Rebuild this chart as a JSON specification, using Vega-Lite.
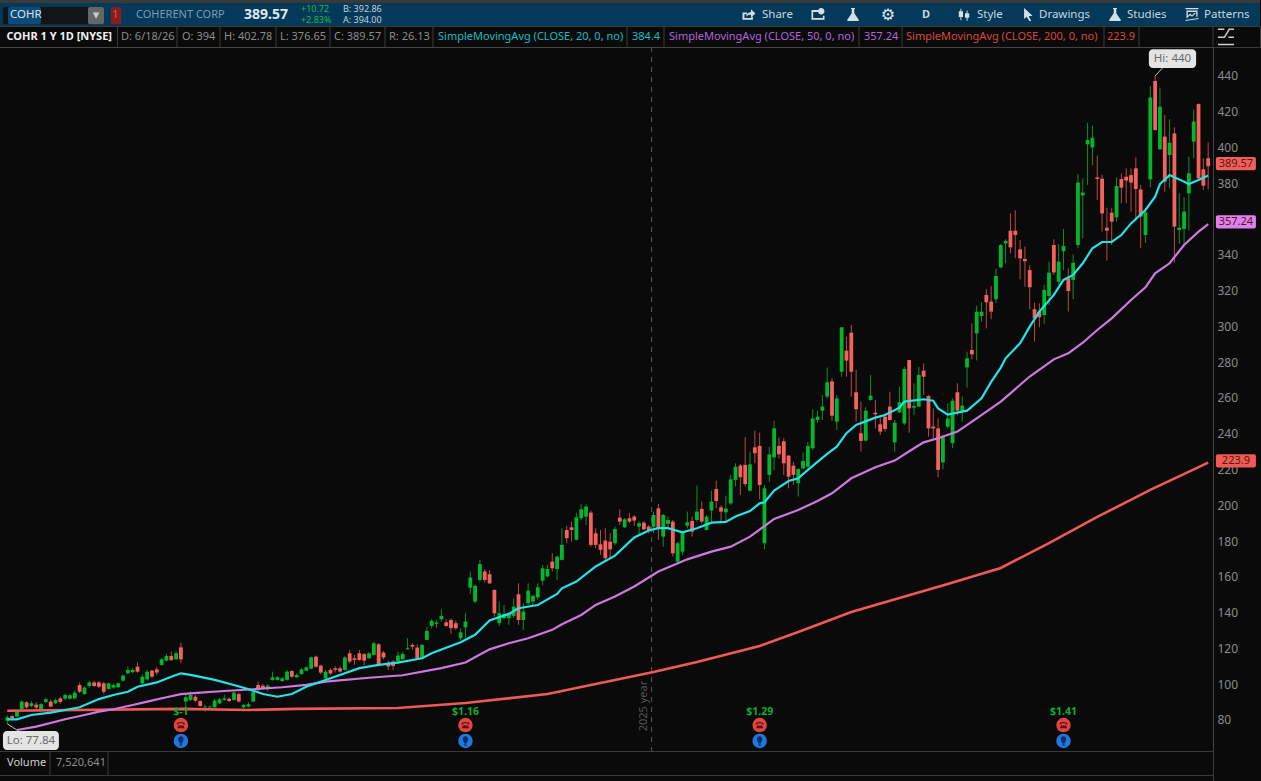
{"$schema":"https://vega.github.io/schema/vega-lite/v6.json","background":"#0a0a0a","padding":{"left":-2,"top":0,"right":0,"bottom":0},"spacing":0,"bounds":"flush","config":{"font":"Noto Sans","concat":{"spacing":0},"view":{"stroke":null},"scale":{"continuousPadding":0},"axis":{"labelOverlap":false}},
"datasets":{
"bars":[
{"i":0,"o":79.6,"h":82.5,"l":77.84,"c":81.5},{"i":1,"o":82.2,"h":83,"l":80.5,"c":81},{"i":2,"o":82,"h":85.5,"l":81.5,"c":84.5},{"i":3,"o":86,"h":91,"l":85.5,"c":90.3},{"i":4,"o":89.9,"h":90.5,"l":86.5,"c":87.1},{"i":5,"o":87.8,"h":90.5,"l":87,"c":89.3},{"i":6,"o":88.6,"h":90,"l":85.5,"c":87},{"i":7,"o":85.6,"h":89.5,"l":85.2,"c":88.9},{"i":8,"o":90.1,"h":92.5,"l":89.5,"c":91.6},{"i":9,"o":90.3,"h":91.5,"l":87,"c":87.5},
{"i":10,"o":89.3,"h":92,"l":88.8,"c":91.2},{"i":11,"o":92.1,"h":93,"l":89,"c":90.1},{"i":12,"o":91.9,"h":94.8,"l":91,"c":94},{"i":13,"o":91.9,"h":94.5,"l":91.4,"c":93.8},{"i":14,"o":92.1,"h":96.5,"l":91.5,"c":95.3},{"i":15,"o":99.6,"h":101,"l":95,"c":95.8},{"i":16,"o":94.5,"h":99,"l":94,"c":98.1},{"i":17,"o":99,"h":102,"l":98,"c":101},{"i":18,"o":101,"h":102,"l":98.5,"c":99},{"i":19,"o":101,"h":101.8,"l":98,"c":98.6},
{"i":20,"o":100.5,"h":101.2,"l":94.5,"c":95.8},{"i":21,"o":97.3,"h":101,"l":97,"c":100.5},{"i":22,"o":98.1,"h":100.5,"l":97.5,"c":99.6},{"i":23,"o":98.3,"h":101,"l":98,"c":100.5},{"i":24,"o":102,"h":105.5,"l":101.5,"c":104.8},{"i":25,"o":106.1,"h":110,"l":105.5,"c":108},{"i":26,"o":106.8,"h":109,"l":106,"c":108},{"i":27,"o":109.8,"h":112.2,"l":106.5,"c":107},{"i":28,"o":100.5,"h":105.5,"l":99.5,"c":104.2},{"i":29,"o":102.7,"h":108,"l":102,"c":107},
{"i":30,"o":107.6,"h":108,"l":103.5,"c":104.2},{"i":31,"o":108.3,"h":109.5,"l":105,"c":106.5},{"i":32,"o":110.8,"h":114.8,"l":110.3,"c":113.9},{"i":33,"o":113.2,"h":117,"l":112.8,"c":115.8},{"i":34,"o":115.8,"h":118.2,"l":113,"c":113.5},{"i":35,"o":113.9,"h":118.5,"l":113.5,"c":117.3},{"i":36,"o":120.6,"h":123.2,"l":111.7,"c":113.9},{"i":37,"o":90.3,"h":94,"l":86.5,"c":92.7},{"i":38,"o":91.2,"h":96,"l":90.5,"c":94},{"i":39,"o":93,"h":94,"l":90,"c":90.8},
{"i":40,"o":90.6,"h":91,"l":87.5,"c":87.8},{"i":41,"o":87.1,"h":88.5,"l":84.7,"c":87.5},{"i":42,"o":87.1,"h":88,"l":86.5,"c":87.5},{"i":43,"o":87.1,"h":91.8,"l":86.8,"c":90.8},{"i":44,"o":89.3,"h":92.2,"l":89,"c":91.6},{"i":45,"o":91.2,"h":94,"l":90.8,"c":92.1},{"i":46,"o":91.9,"h":92.7,"l":90,"c":90.6},{"i":47,"o":91.2,"h":96,"l":90.8,"c":95.3},{"i":48,"o":94.5,"h":95.3,"l":89.8,"c":90.3},{"i":49,"o":87.1,"h":89,"l":86.5,"c":88.4},
{"i":50,"o":87.5,"h":90,"l":87,"c":88.8},{"i":51,"o":90.3,"h":97.5,"l":90,"c":95.8},{"i":52,"o":99.6,"h":101.5,"l":95.8,"c":97.7},{"i":53,"o":99.2,"h":100,"l":97,"c":97.5},{"i":54,"o":97.7,"h":100,"l":95.8,"c":99.2},{"i":55,"o":102.4,"h":107,"l":102,"c":103.9},{"i":56,"o":102.4,"h":104.5,"l":102,"c":103.9},{"i":57,"o":101.8,"h":104,"l":101.3,"c":103.3},{"i":58,"o":102.4,"h":108,"l":102,"c":107},{"i":59,"o":107.4,"h":108,"l":103.5,"c":104.2},
{"i":60,"o":103.9,"h":106,"l":103.5,"c":105.2},{"i":61,"o":105.7,"h":109,"l":105.3,"c":108.3},{"i":62,"o":107.6,"h":110,"l":107.2,"c":109.4},{"i":63,"o":108.7,"h":115.5,"l":108.3,"c":115},{"i":64,"o":115.4,"h":116,"l":109.3,"c":109.8},{"i":65,"o":110.4,"h":111,"l":105.5,"c":106.5},{"i":66,"o":103.3,"h":108,"l":102,"c":107},{"i":67,"o":108,"h":109,"l":105,"c":106},{"i":68,"o":108.9,"h":110,"l":106.5,"c":108},{"i":69,"o":108.9,"h":110,"l":106.5,"c":107.1},
{"i":70,"o":108,"h":115.8,"l":107.5,"c":114.9},{"i":71,"o":117.3,"h":119.2,"l":111.7,"c":112.7},{"i":72,"o":114.5,"h":116.4,"l":110.8,"c":113.6},{"i":73,"o":117.3,"h":119.2,"l":113,"c":113.6},{"i":74,"o":116.8,"h":117.5,"l":110.8,"c":113.2},{"i":75,"o":114.5,"h":118,"l":114,"c":117.3},{"i":76,"o":116.4,"h":123.8,"l":116,"c":122.9},{"i":77,"o":122.3,"h":123,"l":110.3,"c":110.8},{"i":78,"o":117.7,"h":118.5,"l":114,"c":114.9},{"i":79,"o":112.1,"h":113.2,"l":107.9,"c":109.9},
{"i":80,"o":112.7,"h":113.5,"l":108,"c":110.2},{"i":81,"o":112.7,"h":118.2,"l":112.2,"c":116},{"i":82,"o":114,"h":118,"l":113.5,"c":116.9},{"i":83,"o":119.5,"h":125.7,"l":119.3,"c":120.1},{"i":84,"o":122,"h":122.9,"l":119.2,"c":121},{"i":85,"o":120.5,"h":122.3,"l":114,"c":114.5},{"i":86,"o":114.9,"h":122.5,"l":114.5,"c":122},{"i":87,"o":124.8,"h":132.2,"l":124.5,"c":129.8},{"i":88,"o":132.6,"h":136.3,"l":131.3,"c":135.4},{"i":89,"o":133.7,"h":136,"l":131.3,"c":134.5},
{"i":90,"o":136.3,"h":141.9,"l":135,"c":138.2},{"i":91,"o":134.6,"h":136.3,"l":132,"c":132.6},{"i":92,"o":135.9,"h":136.9,"l":128.1,"c":131.3},{"i":93,"o":134.1,"h":135.6,"l":130.4,"c":131.3},{"i":94,"o":125.7,"h":131.3,"l":124.8,"c":129},{"i":95,"o":131.8,"h":139.7,"l":125.7,"c":135},{"i":96,"o":154,"h":163,"l":150.5,"c":159.6},{"i":97,"o":146.2,"h":155.8,"l":145.3,"c":155},{"i":98,"o":158.3,"h":169.5,"l":157.4,"c":167.2},{"i":99,"o":163,"h":164.3,"l":156.8,"c":158.3},
{"i":100,"o":161.5,"h":163.9,"l":156,"c":156.4},{"i":101,"o":152.7,"h":153,"l":137.8,"c":139.7},{"i":102,"o":134.1,"h":146.2,"l":132.6,"c":139.7},{"i":103,"o":136.9,"h":144.3,"l":136.3,"c":139.3},{"i":104,"o":136.9,"h":140,"l":133.2,"c":139.3},{"i":105,"o":138.2,"h":148,"l":136.9,"c":143.4},{"i":106,"o":150.3,"h":156.4,"l":133.2,"c":135.9},{"i":107,"o":135.9,"h":145.3,"l":130.4,"c":140.6},{"i":108,"o":145.3,"h":156.4,"l":144.3,"c":152.3},{"i":109,"o":146.2,"h":150,"l":144.3,"c":149.4},
{"i":110,"o":148.6,"h":156.4,"l":147.1,"c":154.2},{"i":111,"o":157.9,"h":166.7,"l":155.5,"c":164.8},{"i":112,"o":160.2,"h":166.7,"l":159.8,"c":164.4},{"i":113,"o":168.5,"h":173.2,"l":163,"c":164.8},{"i":114,"o":164.3,"h":171.8,"l":158.3,"c":171.3},{"i":115,"o":169.5,"h":187.2,"l":169.1,"c":177.9},{"i":116,"o":186.2,"h":188.5,"l":178.8,"c":181.6},{"i":117,"o":187.7,"h":190.9,"l":179.7,"c":186.2},{"i":118,"o":180.7,"h":195.6,"l":180.3,"c":193.3},{"i":119,"o":192.8,"h":200.6,"l":191.8,"c":197.8},
{"i":120,"o":193.7,"h":200.6,"l":189,"c":199.3},{"i":121,"o":195.9,"h":197.1,"l":176.9,"c":177.9},{"i":122,"o":184.4,"h":187.2,"l":176,"c":177.9},{"i":123,"o":178.2,"h":186.2,"l":172.3,"c":175.1},{"i":124,"o":180.3,"h":187.2,"l":169.5,"c":170.4},{"i":125,"o":179.7,"h":184.4,"l":170.4,"c":175.4},{"i":126,"o":178.8,"h":188.1,"l":177.9,"c":186.8},{"i":127,"o":193.1,"h":197.8,"l":189,"c":190.9},{"i":128,"o":187.7,"h":193,"l":187.2,"c":192.2},{"i":129,"o":192.8,"h":195.6,"l":190,"c":190.9},
{"i":130,"o":193.7,"h":194.6,"l":188.5,"c":191.5},{"i":131,"o":188.1,"h":191,"l":183.4,"c":190},{"i":132,"o":190.3,"h":191.2,"l":186,"c":186.6},{"i":133,"o":188.1,"h":189,"l":184.4,"c":185.9},{"i":134,"o":188,"h":196.5,"l":184.4,"c":194.6},{"i":135,"o":198.3,"h":200.8,"l":180.6,"c":187.2},{"i":136,"o":182.5,"h":195.2,"l":176.9,"c":194.6},{"i":137,"o":189.6,"h":193.7,"l":187.2,"c":191.8},{"i":138,"o":190.9,"h":191.8,"l":171.3,"c":173.2},{"i":139,"o":168.5,"h":179.5,"l":167,"c":178.8},
{"i":140,"o":174.1,"h":185.3,"l":172.3,"c":184.7},{"i":141,"o":188.6,"h":196.5,"l":187.2,"c":190.5},{"i":142,"o":191.3,"h":193.7,"l":182.5,"c":185.3},{"i":143,"o":191.8,"h":211,"l":190.9,"c":196.5},{"i":144,"o":198,"h":202.1,"l":190,"c":190.9},{"i":145,"o":186.2,"h":194.5,"l":186,"c":193.7},{"i":146,"o":197.1,"h":208.2,"l":190.9,"c":202.1},{"i":147,"o":209.1,"h":213.8,"l":198.3,"c":202.4},{"i":148,"o":198.9,"h":200.2,"l":190.9,"c":196.5},{"i":149,"o":196.1,"h":205.4,"l":190.9,"c":198.2},
{"i":150,"o":201.1,"h":217,"l":200.2,"c":214.5},{"i":151,"o":214.2,"h":223.5,"l":210.5,"c":221.6},{"i":152,"o":222.2,"h":223.1,"l":205.8,"c":215.7},{"i":153,"o":222.6,"h":238,"l":210.5,"c":211.9},{"i":154,"o":208.2,"h":230,"l":207.7,"c":222.9},{"i":155,"o":232.4,"h":241.7,"l":223.5,"c":229.1},{"i":156,"o":233.2,"h":240.6,"l":203.4,"c":211.4},{"i":157,"o":178.8,"h":211.4,"l":175.4,"c":209.5},{"i":158,"o":217,"h":232.8,"l":213.2,"c":228.5},{"i":159,"o":226.8,"h":247.3,"l":219.8,"c":243},
{"i":160,"o":233.2,"h":238,"l":226.3,"c":228.5},{"i":161,"o":235.8,"h":237.5,"l":217,"c":223.5},{"i":162,"o":227.8,"h":228.1,"l":209.5,"c":216},{"i":163,"o":222.2,"h":224.4,"l":211.4,"c":217},{"i":164,"o":212.3,"h":220.7,"l":204.9,"c":220.3},{"i":165,"o":220.7,"h":229.5,"l":219.8,"c":224.8},{"i":166,"o":221.6,"h":235.6,"l":220.7,"c":233.2},{"i":167,"o":231.9,"h":253.7,"l":230.9,"c":248.6},{"i":168,"o":247.7,"h":252.9,"l":246.2,"c":249.6},{"i":169,"o":252.9,"h":261.7,"l":247.7,"c":255.2},
{"i":170,"o":260.8,"h":277,"l":259.8,"c":268.8},{"i":171,"o":269.3,"h":271,"l":247.3,"c":250.1},{"i":172,"o":246.8,"h":261.7,"l":242.1,"c":259.8},{"i":173,"o":274.7,"h":299.5,"l":271.9,"c":299.5},{"i":174,"o":286.5,"h":294.3,"l":271.9,"c":280.9},{"i":175,"o":296.5,"h":300.8,"l":260.8,"c":274.7},{"i":176,"o":263.2,"h":275.7,"l":246.8,"c":253.7},{"i":177,"o":240.3,"h":258,"l":230,"c":236},{"i":178,"o":236.2,"h":254.8,"l":235.6,"c":252.9},{"i":179,"o":258.9,"h":272.9,"l":258.5,"c":261.3},
{"i":180,"o":251.8,"h":258.9,"l":243,"c":250.9},{"i":181,"o":245.3,"h":250.5,"l":239.3,"c":241.2},{"i":182,"o":249.6,"h":251.4,"l":241.2,"c":242.7},{"i":183,"o":255.2,"h":263.5,"l":247.3,"c":247.7},{"i":184,"o":235.2,"h":247.7,"l":230,"c":246.2},{"i":185,"o":252,"h":266.3,"l":251.4,"c":257.6},{"i":186,"o":245.8,"h":277.5,"l":244.9,"c":276.2},{"i":187,"o":281.2,"h":281.2,"l":240.6,"c":254.2},{"i":188,"o":254.6,"h":268.2,"l":250.5,"c":255.5},{"i":189,"o":255.2,"h":277.5,"l":254.8,"c":272.9},
{"i":190,"o":275.3,"h":279.4,"l":261.7,"c":271.9},{"i":191,"o":261.1,"h":261.7,"l":238.4,"c":243},{"i":192,"o":244,"h":254.2,"l":236.9,"c":243},{"i":193,"o":243,"h":248.6,"l":215.7,"c":219.8},{"i":194,"o":224,"h":239.3,"l":220.1,"c":238},{"i":195,"o":244,"h":257,"l":243,"c":248.6},{"i":196,"o":234.7,"h":259.8,"l":231.9,"c":258.5},{"i":197,"o":263.2,"h":268.2,"l":250.5,"c":252.9},{"i":198,"o":252.4,"h":260.8,"l":246.8,"c":255.7},{"i":199,"o":277.1,"h":285.9,"l":265.8,"c":282.2},
{"i":200,"o":286.8,"h":301.7,"l":281.6,"c":284.4},{"i":201,"o":296.1,"h":311.6,"l":281,"c":308.2},{"i":202,"o":305.8,"h":313.5,"l":302.6,"c":308.2},{"i":203,"o":317.6,"h":320.8,"l":298.9,"c":313.5},{"i":204,"o":313.9,"h":322.6,"l":304,"c":308.3},{"i":205,"o":315.2,"h":332.3,"l":313,"c":328.2},{"i":206,"o":333,"h":346.1,"l":332.5,"c":345.5},{"i":207,"o":346.4,"h":348.7,"l":335.3,"c":347.8},{"i":208,"o":353.5,"h":363.2,"l":340.9,"c":344.2},{"i":209,"o":353.5,"h":365,"l":338.1,"c":351.1},
{"i":210,"o":343.1,"h":348.3,"l":326.3,"c":338.1},{"i":211,"o":337.7,"h":344.6,"l":322.2,"c":336.4},{"i":212,"o":331.5,"h":334.3,"l":309.6,"c":321.9},{"i":213,"o":309.6,"h":313.3,"l":291.5,"c":304.5},{"i":214,"o":308.3,"h":312.9,"l":299.5,"c":305.1},{"i":215,"o":306.4,"h":323.2,"l":301.4,"c":320.4},{"i":216,"o":317,"h":336.2,"l":312,"c":330.1},{"i":217,"o":345.5,"h":348.7,"l":328.8,"c":330.2},{"i":218,"o":325,"h":346.1,"l":323.2,"c":336.2},{"i":219,"o":342,"h":354.5,"l":331.5,"c":345},
{"i":220,"o":326.9,"h":332.5,"l":308.3,"c":319.8},{"i":221,"o":326,"h":340.3,"l":315.2,"c":335.6},{"i":222,"o":345.5,"h":385.2,"l":343.7,"c":380.4},{"i":223,"o":373.3,"h":382.8,"l":349.2,"c":374.8},{"i":224,"o":401.8,"h":413.9,"l":379.1,"c":404.2},{"i":225,"o":400.1,"h":412.2,"l":390.2,"c":405.5},{"i":226,"o":383.3,"h":395.5,"l":370.7,"c":382.4},{"i":227,"o":382.6,"h":384.8,"l":353,"c":363.2},{"i":228,"o":355.2,"h":366.4,"l":336.8,"c":353.5},{"i":229,"o":363.6,"h":366,"l":345.5,"c":358.6},
{"i":230,"o":361,"h":383.2,"l":358.6,"c":378.5},{"i":231,"o":382.4,"h":385.6,"l":368.8,"c":377.6},{"i":232,"o":383.7,"h":388.4,"l":368.8,"c":381.5},{"i":233,"o":384.6,"h":388.4,"l":364.2,"c":380.4},{"i":234,"o":388.4,"h":394.5,"l":359.5,"c":376.8},{"i":235,"o":376.6,"h":379,"l":343.7,"c":361.4},{"i":236,"o":351.1,"h":366,"l":346.8,"c":363.8},{"i":237,"o":382.2,"h":434.4,"l":377.8,"c":428},{"i":238,"o":437.2,"h":440,"l":409.4,"c":409.8},{"i":239,"o":399,"h":433.5,"l":398.6,"c":422.8},
{"i":240,"o":406.1,"h":418.2,"l":375.3,"c":380.9},{"i":241,"o":395.8,"h":415.8,"l":377.2,"c":402.7},{"i":242,"o":407.9,"h":411.3,"l":335.7,"c":355.8},{"i":243,"o":353.9,"h":374.4,"l":346.1,"c":355.2},{"i":244,"o":354.5,"h":372.2,"l":345.5,"c":364.2},{"i":245,"o":374.4,"h":394.9,"l":353.9,"c":385.6},{"i":246,"o":403.3,"h":421.3,"l":394,"c":414.5},{"i":247,"o":424.3,"h":424.7,"l":381.9,"c":382.8},{"i":248,"o":387.8,"h":394,"l":376.3,"c":378.7},{"i":249,"o":394,"h":402.78,"l":376.65,"c":389.57}
],
"sma20":[{"i":0,"v":80.4},{"i":2,"v":80.4},{"i":5,"v":82.8},{"i":9,"v":84.1},{"i":12,"v":85.6},{"i":15,"v":87.1},{"i":19,"v":91.7},{"i":22,"v":94},{"i":25,"v":95.8},{"i":27,"v":98.6},{"i":31,"v":101},{"i":34,"v":104.2},{"i":36,"v":106.1},{"i":38,"v":105.2},{"i":43,"v":102.4},{"i":47,"v":99.6},{"i":51,"v":96.4},{"i":53,"v":94.5},{"i":56,"v":93},{"i":59,"v":94.5},{"i":62,"v":98.6},{"i":66,"v":102.4},{"i":73,"v":109},{"i":77,"v":110.8},{"i":81,"v":112.1},{"i":86,"v":114.5},{"i":88,"v":117.3},{"i":94,"v":123.5},{"i":97,"v":127.6},{"i":100,"v":135.6},{"i":104,"v":139.3},{"i":106,"v":142.5},{"i":110,"v":144.3},{"i":114,"v":150.5},{"i":115,"v":153.6},{"i":118,"v":157.4},{"i":122,"v":165.8},{"i":126,"v":171.9},{"i":130,"v":182},{"i":133,"v":185.9},{"i":135,"v":187.2},{"i":137,"v":187.2},{"i":140,"v":184.9},{"i":143,"v":187.2},{"i":146,"v":190.3},{"i":149,"v":190.7},{"i":151,"v":193.7},{"i":154,"v":196.8},{"i":156,"v":201.1},{"i":157,"v":201.7},{"i":159,"v":208.2},{"i":162,"v":213.6},{"i":164,"v":215.1},{"i":166,"v":219.8},{"i":170,"v":228.7},{"i":172,"v":232.8},{"i":174,"v":240.3},{"i":176,"v":244.9},{"i":180,"v":249},{"i":182,"v":250.5},{"i":185,"v":254.6},{"i":186,"v":258},{"i":190,"v":259.3},{"i":192,"v":258.5},{"i":193,"v":254.2},{"i":195,"v":250.7},{"i":199,"v":252.9},{"i":200,"v":255.2},{"i":202,"v":259.8},{"i":204,"v":269},{"i":206,"v":277},{"i":207,"v":282.2},{"i":210,"v":290.6},{"i":212,"v":299.9},{"i":214,"v":308.3},{"i":217,"v":317.6},{"i":219,"v":326},{"i":221,"v":328.8},{"i":223,"v":335.3},{"i":225,"v":343.7},{"i":227,"v":347.2},{"i":229,"v":347.2},{"i":231,"v":351.1},{"i":233,"v":357.6},{"i":236,"v":365.1},{"i":238,"v":372.5},{"i":239,"v":379.6},{"i":241,"v":384.6},{"i":243,"v":382.2},{"i":245,"v":379.6},{"i":247,"v":381.9},{"i":249,"v":384.4}],
"sma50":[{"i":2,"v":74.4},{"i":6,"v":76.3},{"i":12,"v":80.4},{"i":16,"v":82.8},{"i":19,"v":84.7},{"i":22,"v":86},{"i":26,"v":88.4},{"i":29,"v":90.3},{"i":33,"v":92.7},{"i":36,"v":94.5},{"i":40,"v":95.3},{"i":45,"v":96.2},{"i":51,"v":97.2},{"i":57,"v":98.3},{"i":62,"v":99.6},{"i":66,"v":101.4},{"i":75,"v":103.6},{"i":82,"v":105},{"i":90,"v":109},{"i":95,"v":112.1},{"i":100,"v":119.5},{"i":104,"v":122.9},{"i":108,"v":125.7},{"i":113,"v":130.4},{"i":115,"v":133.5},{"i":119,"v":138.7},{"i":122,"v":144.3},{"i":126,"v":149},{"i":130,"v":154.6},{"i":135,"v":163},{"i":141,"v":169.8},{"i":146,"v":174.1},{"i":150,"v":176.9},{"i":154,"v":182.5},{"i":159,"v":192.4},{"i":164,"v":197.4},{"i":168,"v":202.4},{"i":171,"v":206.7},{"i":175,"v":215.1},{"i":180,"v":221.3},{"i":184,"v":225},{"i":188,"v":231.9},{"i":190,"v":235.2},{"i":193,"v":237.5},{"i":197,"v":241.2},{"i":201,"v":248.6},{"i":206,"v":258},{"i":212,"v":272},{"i":217,"v":281.6},{"i":220,"v":285},{"i":223,"v":290.9},{"i":226,"v":298},{"i":229,"v":304.5},{"i":233,"v":314.8},{"i":236,"v":321.9},{"i":238,"v":329.7},{"i":241,"v":335.3},{"i":244,"v":345.5},{"i":247,"v":353},{"i":249,"v":357.24}],
"sma200":[{"i":0,"v":85.2},{"i":36,"v":86.2},{"i":50,"v":85.6},{"i":60,"v":86.2},{"i":81,"v":86.7},{"i":95,"v":89.5},{"i":112,"v":94.5},{"i":123,"v":100.7},{"i":134,"v":106.8},{"i":143,"v":112.4},{"i":156,"v":121.4},{"i":164,"v":129.2},{"i":175,"v":140.4},{"i":185,"v":148.2},{"i":195,"v":156},{"i":206,"v":165},{"i":216,"v":178.9},{"i":226,"v":193.5},{"i":237,"v":208.6},{"i":249,"v":223.9}],
"events":[{"i":36,"t":"$-1"},{"i":95,"t":"$1.16"},{"i":156,"t":"$1.29"},{"i":219,"t":"$1.41"}],
"notes":[{"t":"Lo: 77.84","a":-0.9,"b":10.7,"p0":63.2,"p1":73.9,"m":4.9,"pm":68.5},{"t":"Hi: 440","a":236.7,"b":246.5,"p0":444.4,"p1":455,"m":241.6,"pm":449.7}],
"leaders":[{"a":0,"b":2.3,"p0":77.84,"p1":73.9},{"a":238,"b":239.5,"p0":440,"p1":444.4}],
"tags":[{"t":"389.57","a":250.6,"b":258.9,"m":254.75,"p0":387.3,"p1":394.7,"pm":391},{"t":"357.24","a":250.6,"b":258.9,"m":254.75,"p0":354.7,"p1":362.1,"pm":358.4},{"t":"223.9","a":250.6,"b":258.9,"m":254.75,"p0":221.1,"p1":228.5,"pm":224.8}]
},
"vconcat":[
{"width":1261,"height":3,"data":{"values":[{}]},"mark":{"type":"rect","opacity":0},"encoding":{},"view":{"fill":"#3a3a3a"}},
{"width":1261,"height":23,"view":{"fill":"#04395a"},
 "encoding":{"x":{"field":"s","type":"quantitative","axis":null,"scale":{"domain":[0,1,2,3,4,5,6,7,8,9,10,11,12,13,14,15,16,17,18,19,20,21,22,23,24,25,26,27],"range":[4,9,11,42,89,97,105,112,116.5,122,137,245,302,344,750,763,819,854,889,927,965,978,1029,1040,1116,1128,1193,1205]}}},
 "layer":[
  {"data":{"values":[{"s":0,"e":6,"k":"box"},{"s":1,"e":3,"k":"sel"},{"s":4,"e":6,"k":"btn"},{"s":7,"e":9,"k":"chip"}]},"mark":{"type":"rect","cornerRadius":2},"encoding":{"x2":{"field":"e"},"y":{"datum":0.83,"type":"quantitative","axis":null,"scale":{"domain":[0,1]}},"y2":{"datum":0.08},"fill":{"field":"k","type":"nominal","legend":null,"scale":{"domain":["box","sel","btn","chip"],"range":["#121416","#0e4a78","#666666","#8f1a1a"]}}}},
  {"data":{"values":[{"s":2,"t":"COHR"}]},"mark":{"type":"text","align":"left","fontSize":11.5,"color":"#d8e4ec"},"encoding":{"text":{"field":"t"}}},
  {"data":{"values":[{"s":5,"t":"▾"}]},"mark":{"type":"text","align":"center","fontSize":13,"color":"#cccccc","font":"DejaVu Sans"},"encoding":{"text":{"field":"t"}}},
  {"data":{"values":[{"s":8,"t":"1"}]},"mark":{"type":"text","align":"center","fontSize":11,"color":"#d06060"},"encoding":{"text":{"field":"t"}}},
  {"data":{"values":[{"s":10,"t":"COHERENT CORP"}]},"mark":{"type":"text","align":"left","fontSize":11,"color":"#7e9cae"},"encoding":{"text":{"field":"t"}}},
  {"data":{"values":[{"s":11,"t":"389.57"}]},"mark":{"type":"text","align":"left","fontSize":14,"fontWeight":"bold","color":"#dfe8ee"},"encoding":{"text":{"field":"t"}}},
  {"data":{"values":[{"s":12,"t":"+10.72"}]},"mark":{"type":"text","align":"left","fontSize":9,"color":"#1fb84a"},"encoding":{"y":{"datum":0.72,"type":"quantitative"},"text":{"field":"t"}}},
  {"data":{"values":[{"s":12,"t":"+2.83%"}]},"mark":{"type":"text","align":"left","fontSize":9,"color":"#1fb84a"},"encoding":{"y":{"datum":0.24,"type":"quantitative"},"text":{"field":"t"}}},
  {"data":{"values":[{"s":13,"t":"B: 392.86"}]},"mark":{"type":"text","align":"left","fontSize":9,"color":"#c4d2da"},"encoding":{"y":{"datum":0.72,"type":"quantitative"},"text":{"field":"t"}}},
  {"data":{"values":[{"s":13,"t":"A: 394.00"}]},"mark":{"type":"text","align":"left","fontSize":9,"color":"#c4d2da"},"encoding":{"y":{"datum":0.24,"type":"quantitative"},"text":{"field":"t"}}},
  {"data":{"values":[{"s":15,"t":"Share"},{"s":21,"t":"Style"},{"s":23,"t":"Drawings"},{"s":25,"t":"Studies"},{"s":27,"t":"Patterns"}]},"mark":{"type":"text","align":"left","fontSize":11.5,"color":"#c9d6de"},"encoding":{"text":{"field":"t"}}},
  {"data":{"values":[{"s":19,"t":"D"}]},"mark":{"type":"text","align":"center","fontSize":11,"fontWeight":"bold","color":"#c9d6de"},"encoding":{"text":{"field":"t"}}},
  {"data":{"values":[{"s":18,"t":"⚙"}]},"mark":{"type":"text","align":"center","fontSize":16,"color":"#dfe8ee","font":"DejaVu Sans"},"encoding":{"text":{"field":"t"}}},
  {"data":{"values":[{"s":14,"n":"share"},{"s":16,"n":"doc"},{"s":17,"n":"flask"},{"s":20,"n":"candle"},{"s":22,"n":"cursor"},{"s":24,"n":"flask"},{"s":26,"n":"pattern"}]},"mark":{"type":"point","filled":true,"opacity":1,"color":"#d5dfe5","size":170},"encoding":{"shape":{"field":"n","type":"nominal","legend":null,"scale":{"domain":["share","doc","flask","candle","cursor","pattern"],"range":["M-1,-0.3 L-1,0.8 L0.6,0.8 L0.6,0.35 L0.35,0.35 L0.35,0.55 L-0.7,0.55 L-0.7,-0.05 L-0.3,-0.05 L-0.3,-0.3 Z M-0.4,0.35 C-0.4,-0.2 0,-0.35 0.3,-0.35 L0.3,-0.8 L1,-0.15 L0.3,0.45 L0.3,0.05 C0,0.05 -0.2,0.1 -0.4,0.35 Z","M-1,-0.7 L0.2,-0.7 L0.2,-0.4 L-0.75,-0.4 L-0.75,0.55 L0.75,0.55 L0.75,0.2 L1,0.2 L1,0.8 L-1,0.8 Z M0.5,-1 A0.5,0.5 0 1 1 0.49,-1 Z","M-0.3,-1 L0.3,-1 L0.3,-0.85 L0.2,-0.85 L0.2,-0.2 L0.9,0.85 Q0.95,1 0.75,1 L-0.75,1 Q-0.95,1 -0.9,0.85 L-0.2,-0.2 L-0.2,-0.85 L-0.3,-0.85 Z","M-0.55,-0.9 L-0.4,-0.9 L-0.4,-0.5 L-0.15,-0.5 L-0.15,0.4 L-0.4,0.4 L-0.4,0.9 L-0.55,0.9 L-0.55,0.4 L-0.8,0.4 L-0.8,-0.5 L-0.55,-0.5 Z M0.4,-0.6 L0.55,-0.6 L0.55,-0.2 L0.8,-0.2 L0.8,0.5 L0.55,0.5 L0.55,0.95 L0.4,0.95 L0.4,0.5 L0.15,0.5 L0.15,-0.2 L0.4,-0.2 Z","M-0.6,-1 L0.7,0.2 L0.1,0.25 L0.5,1 L0.2,1 L-0.2,0.35 L-0.6,0.7 Z","M-1,-1 L1,-1 L1,-0.82 L-1,-0.82 Z M-0.85,-0.6 L0.85,-0.6 L0.85,0.35 L0.65,0.35 L0.65,-0.4 L-0.65,-0.4 L-0.65,0.2 L-0.3,-0.15 L0,0.1 L0.45,-0.3 L0.55,-0.15 L0,0.35 L-0.3,0.1 L-0.85,0.6 Z M-1,0.85 L1,0.55 L1,0.7 L-1,1 Z"]}}}}
 ]},
{"width":1261,"height":21,"view":{"fill":"#0a0a0a","stroke":"#3a3a3a"},
 "encoding":{"x":{"field":"s","type":"quantitative","axis":null,"scale":{"domain":[0,1,2,3,4,5,6,7,8,9,10,11,12,13,14,15,16,17,18,19,20,21,22,23,24,25,26,27],"range":[7.5,118.5,122,178,183,221,225,277,281,331,335,386,390,434,439,628,633,665,670,860,865,903,907,1105,1108,1140,1214,1227]}}},
 "layer":[
  {"data":{"values":[{"s":1},{"s":3},{"s":5},{"s":7},{"s":9},{"s":11},{"s":13},{"s":15},{"s":17},{"s":19},{"s":21},{"s":23},{"s":25},{"s":26}]},"mark":{"type":"rule","color":"#3a3a3a"},"encoding":{}},
  {"data":{"values":[{"s":0,"t":"COHR 1 Y 1D [NYSE]"}]},"mark":{"type":"text","align":"left","fontSize":11,"fontWeight":"bold","color":"#f0f0f0"},"encoding":{"text":{"field":"t"}}},
  {"data":{"values":[{"s":2,"t":"D: 6/18/26"},{"s":4,"t":"O: 394"},{"s":6,"t":"H: 402.78"},{"s":8,"t":"L: 376.65"},{"s":10,"t":"C: 389.57"},{"s":12,"t":"R: 26.13"}]},"mark":{"type":"text","align":"left","fontSize":11,"color":"#8c8c8c"},"encoding":{"text":{"field":"t"}}},
  {"data":{"values":[{"s":14,"t":"SimpleMovingAvg (CLOSE, 20, 0, no)"},{"s":16,"t":"384.4"}]},"mark":{"type":"text","align":"left","fontSize":11,"color":"#12bfc4"},"encoding":{"text":{"field":"t"}}},
  {"data":{"values":[{"s":18,"t":"SimpleMovingAvg (CLOSE, 50, 0, no)"},{"s":20,"t":"357.24"}]},"mark":{"type":"text","align":"left","fontSize":11,"color":"#b066dc"},"encoding":{"text":{"field":"t"}}},
  {"data":{"values":[{"s":22,"t":"SimpleMovingAvg (CLOSE, 200, 0, no)"},{"s":24,"t":"223.9"}]},"mark":{"type":"text","align":"left","fontSize":11,"color":"#d8473f"},"encoding":{"text":{"field":"t"}}},
  {"data":{"values":[{"s":27,"n":"adj"}]},"mark":{"type":"point","filled":false,"opacity":1,"color":"#cccccc","strokeWidth":1.5,"size":260,"shape":"M-1,1 L1,1 M-1,0.1 L-0.2,0.1 L0.4,-0.9 L1,-0.9 M-1,-0.9 L-0.2,-0.9 M0.3,0.1 L1,0.1"}}
 ]},
{"width":1214,"height":704,"view":{"fill":"#0a0a0a","stroke":"#444444"},
 "encoding":{"x":{"field":"i","type":"quantitative","axis":null,"scale":{"domain":[-1.72,250],"nice":false,"zero":false,"padding":0}}},
 "layer":[
  {"data":{"values":[{"i":133.6}]},"mark":{"type":"rule","color":"#5a5a5a","strokeDash":[5,5],"strokeWidth":1},"encoding":{}},
  {"data":{"values":[{"i":132,"p":87.8,"t":"2025 year"}]},"mark":{"type":"text","angle":270,"fontSize":11,"color":"#555555"},"encoding":{"y":{"field":"p","type":"quantitative"},"text":{"field":"t"}}},
  {"data":{"name":"bars"},"mark":{"type":"rule","strokeWidth":1,"opacity":0.85},"encoding":{"y":{"field":"l","type":"quantitative","scale":{"domain":[62.67,456.2],"nice":false,"zero":false},"axis":{"orient":"right","title":null,"values":[80,100,120,140,160,180,200,220,240,260,280,300,320,340,380,400,420,440],"labelOverlap":false,"labelBound":false,"domain":false,"ticks":false,"grid":false,"labelColor":"#8a8a8a","labelFontSize":12,"labelPadding":4,"labelFont":"Noto Sans"}},"y2":{"field":"h"},"color":{"condition":{"test":"datum.c>=datum.o","value":"#0ca82c"},"value":"#d9534e"}}},
  {"data":{"name":"bars"},"mark":{"type":"bar","size":3.8},"encoding":{"y":{"field":"o","type":"quantitative"},"y2":{"field":"c"},"color":{"condition":{"test":"datum.c>=datum.o","value":"#03b62c"},"value":"#f4625c"}}},
  {"data":{"name":"sma200"},"mark":{"type":"line","color":"#ee5a55","strokeWidth":2.6},"encoding":{"y":{"field":"v","type":"quantitative"}}},
  {"data":{"name":"sma50"},"mark":{"type":"line","color":"#cf78e0","strokeWidth":2.2},"encoding":{"y":{"field":"v","type":"quantitative"}}},
  {"data":{"name":"sma20"},"mark":{"type":"line","color":"#25e2e8","strokeWidth":2.2},"encoding":{"y":{"field":"v","type":"quantitative"}}},
  {"data":{"name":"events"},"mark":{"type":"text","fontSize":10.5,"fontWeight":"bold","color":"#0cae2c"},"encoding":{"y":{"datum":84.5,"type":"quantitative"},"text":{"field":"t"}}},
  {"data":{"name":"events"},"mark":{"type":"point","filled":true,"opacity":1,"size":210,"shape":"circle","color":"#e2453f"},"encoding":{"y":{"datum":77.2,"type":"quantitative"}}},
  {"data":{"name":"events"},"mark":{"type":"point","filled":true,"opacity":1,"size":70,"color":"#5a1210","shape":"M-1,-0.2 C-1,-0.9 1,-0.9 1,-0.2 L0.5,-0.1 L0.5,-0.4 L-0.5,-0.4 L-0.5,-0.1 Z M-0.6,0.1 L0.6,0.1 L0.9,0.8 L-0.9,0.8 Z"},"encoding":{"y":{"datum":77.2,"type":"quantitative"}}},
  {"data":{"name":"events"},"mark":{"type":"point","filled":true,"opacity":1,"size":210,"shape":"circle","color":"#1f78e2"},"encoding":{"y":{"datum":68.3,"type":"quantitative"}}},
  {"data":{"name":"events"},"mark":{"type":"point","filled":true,"opacity":1,"size":90,"color":"#0b2f66","shape":"M0,-1 C0.7,-1 0.7,-0.1 0.3,0.3 L0.3,0.55 L-0.3,0.55 L-0.3,0.3 C-0.7,-0.1 -0.7,-1 0,-1 Z M-0.25,0.7 L0.25,0.7 L0.25,1 L-0.25,1 Z"},"encoding":{"y":{"datum":68.3,"type":"quantitative"}}},
  {"data":{"name":"leaders"},"mark":{"type":"rule","color":"#bdbdbd","strokeWidth":1},"encoding":{"x":{"field":"a","type":"quantitative","scale":{"domain":[-1.72,250],"nice":false,"zero":false,"padding":0}},"x2":{"field":"b"},"y":{"field":"p0","type":"quantitative"},"y2":{"field":"p1"}}},
  {"data":{"name":"notes"},"mark":{"type":"rect","cornerRadius":4,"color":"#e4e4e4"},"encoding":{"x":{"field":"a","type":"quantitative","scale":{"domain":[-1.72,250],"nice":false,"zero":false,"padding":0}},"x2":{"field":"b"},"y":{"field":"p0","type":"quantitative"},"y2":{"field":"p1"}}},
  {"data":{"name":"notes"},"mark":{"type":"text","fontSize":11.5,"color":"#6a6a6a"},"encoding":{"x":{"field":"m","type":"quantitative","scale":{"domain":[-1.72,250],"nice":false,"zero":false,"padding":0}},"y":{"field":"pm","type":"quantitative"},"text":{"field":"t"}}},
  {"data":{"name":"tags"},"mark":{"type":"rect","cornerRadius":2},"encoding":{"x":{"field":"a","type":"quantitative","scale":{"domain":[-1.72,250],"nice":false,"zero":false,"padding":0}},"x2":{"field":"b"},"y":{"field":"p0","type":"quantitative"},"y2":{"field":"p1"},"color":{"field":"t","type":"nominal","legend":null,"scale":{"domain":["389.57","357.24","223.9"],"range":["#f0605a","#e07ff0","#ee5a55"]}}}},
  {"data":{"name":"tags"},"mark":{"type":"text","fontSize":11,"color":"#5a1512"},"encoding":{"x":{"field":"m","type":"quantitative","scale":{"domain":[-1.72,250],"nice":false,"zero":false,"padding":0}},"y":{"field":"pm","type":"quantitative"},"text":{"field":"t"}}}
 ]},
{"width":1214,"height":24,"view":{"fill":"#0a0a0a","stroke":"#3a3a3a"},
 "encoding":{"x":{"field":"s","type":"quantitative","axis":null,"scale":{"domain":[0,1,2,3],"range":[8,51,57,109]}}},
 "layer":[
  {"data":{"values":[{"s":1},{"s":3}]},"mark":{"type":"rule","color":"#3a3a3a"},"encoding":{}},
  {"data":{"values":[{"s":0,"t":"Volume"}]},"mark":{"type":"text","align":"left","fontSize":11,"color":"#d0d0d0"},"encoding":{"text":{"field":"t"}}},
  {"data":{"values":[{"s":2,"t":"7,520,641"}]},"mark":{"type":"text","align":"left","fontSize":11,"color":"#8c8c8c"},"encoding":{"text":{"field":"t"}}}
 ]},
{"width":1214,"height":6,"data":{"values":[{}]},"mark":{"type":"rect","opacity":0},"encoding":{},"view":{"fill":"#0a0a0a","stroke":"#3a3a3a"}}
]}
